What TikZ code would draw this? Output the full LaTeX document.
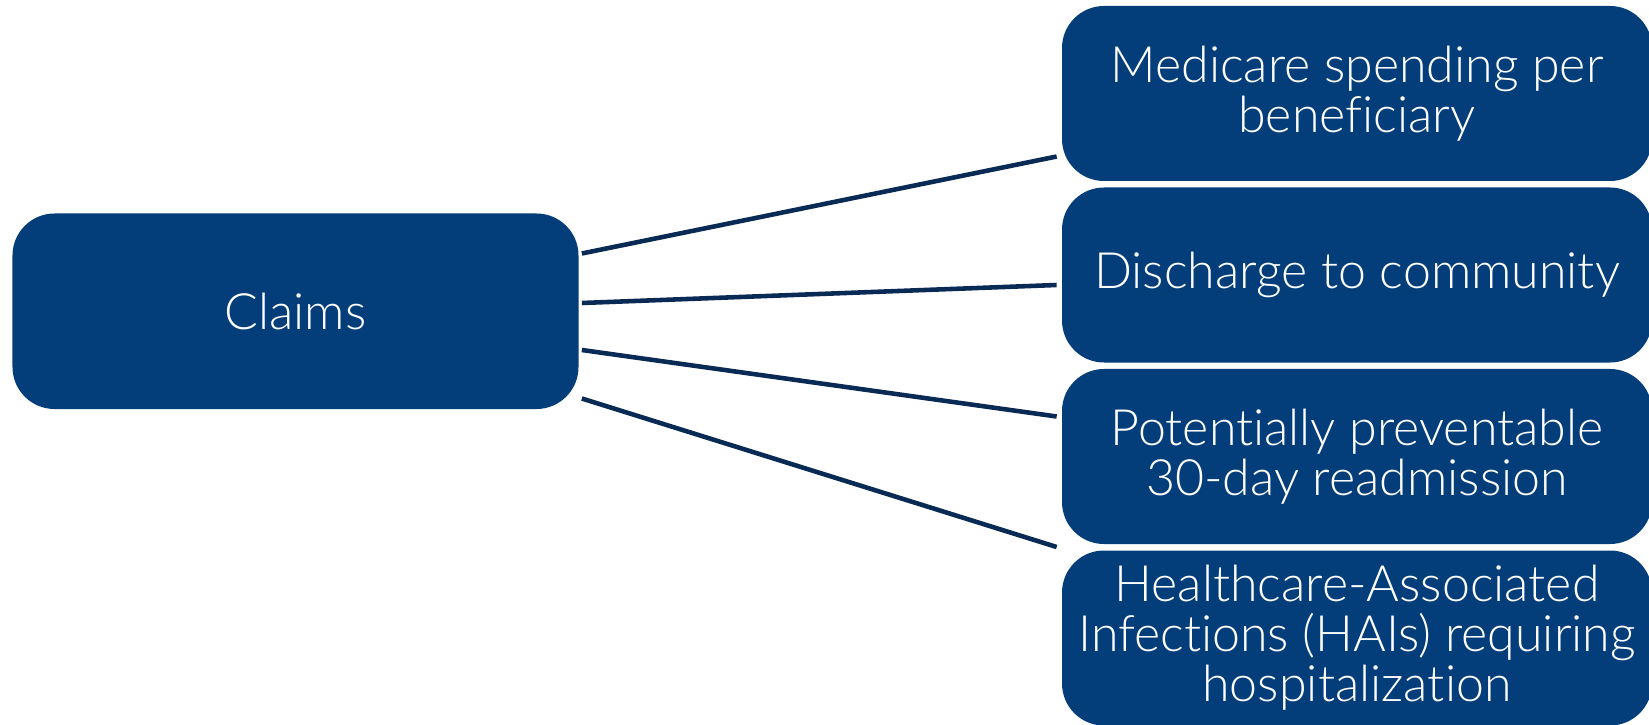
\documentclass[tikz,border=0pt]{standalone}
\usepackage{fontspec}
\setmainfont{Lato}[UprightFont=* Light, Ligatures=NoCommon]
\definecolor{boxblue}{RGB}{3,61,122}
\definecolor{linenavy}{RGB}{8,42,84}

\begin{document}
\begin{tikzpicture}[
		box/.style={fill=boxblue, rounded corners=0.84cm, text=white, align=center, inner sep=0pt,
			font=\fontsize{28.5}{28.4}\selectfont},
		leaf/.style={box, minimum width=11.8cm, minimum height=3.5cm},
		link/.style={draw=linenavy, line width=2.6pt}
	]
	\useasboundingbox (0,0) rectangle (32.98,14.48);
	
	\node[box, minimum width=11.32cm, minimum height=3.91cm] (claims) at (5.91,8.255) {Claims};
	
	\node[leaf] (spend) at (27.14,12.61) {Medicare spending per\\beneficiary};
	\node[leaf] (disch) at (27.14,8.98) {Discharge to community};
	\node[leaf] (readm) at (27.14,5.35) {Potentially preventable\\30-day readmission};
	\node[leaf] (hai) at (27.14,1.72) {Healthcare-Associated\\Infections (HAIs) requiring\\hospitalization};
	
	\foreach \a/\b/\c in {1.155/spend/-1.26, 0.165/disch/-0.2, -0.775/readm/0.8, -1.745/hai/1.82}{
		\draw[link] ([xshift=0.06cm, yshift=\a cm]claims.east) -- ([xshift=-0.1cm, yshift=\c cm]\b.west);
	};
	
\end{tikzpicture}
\end{document}
